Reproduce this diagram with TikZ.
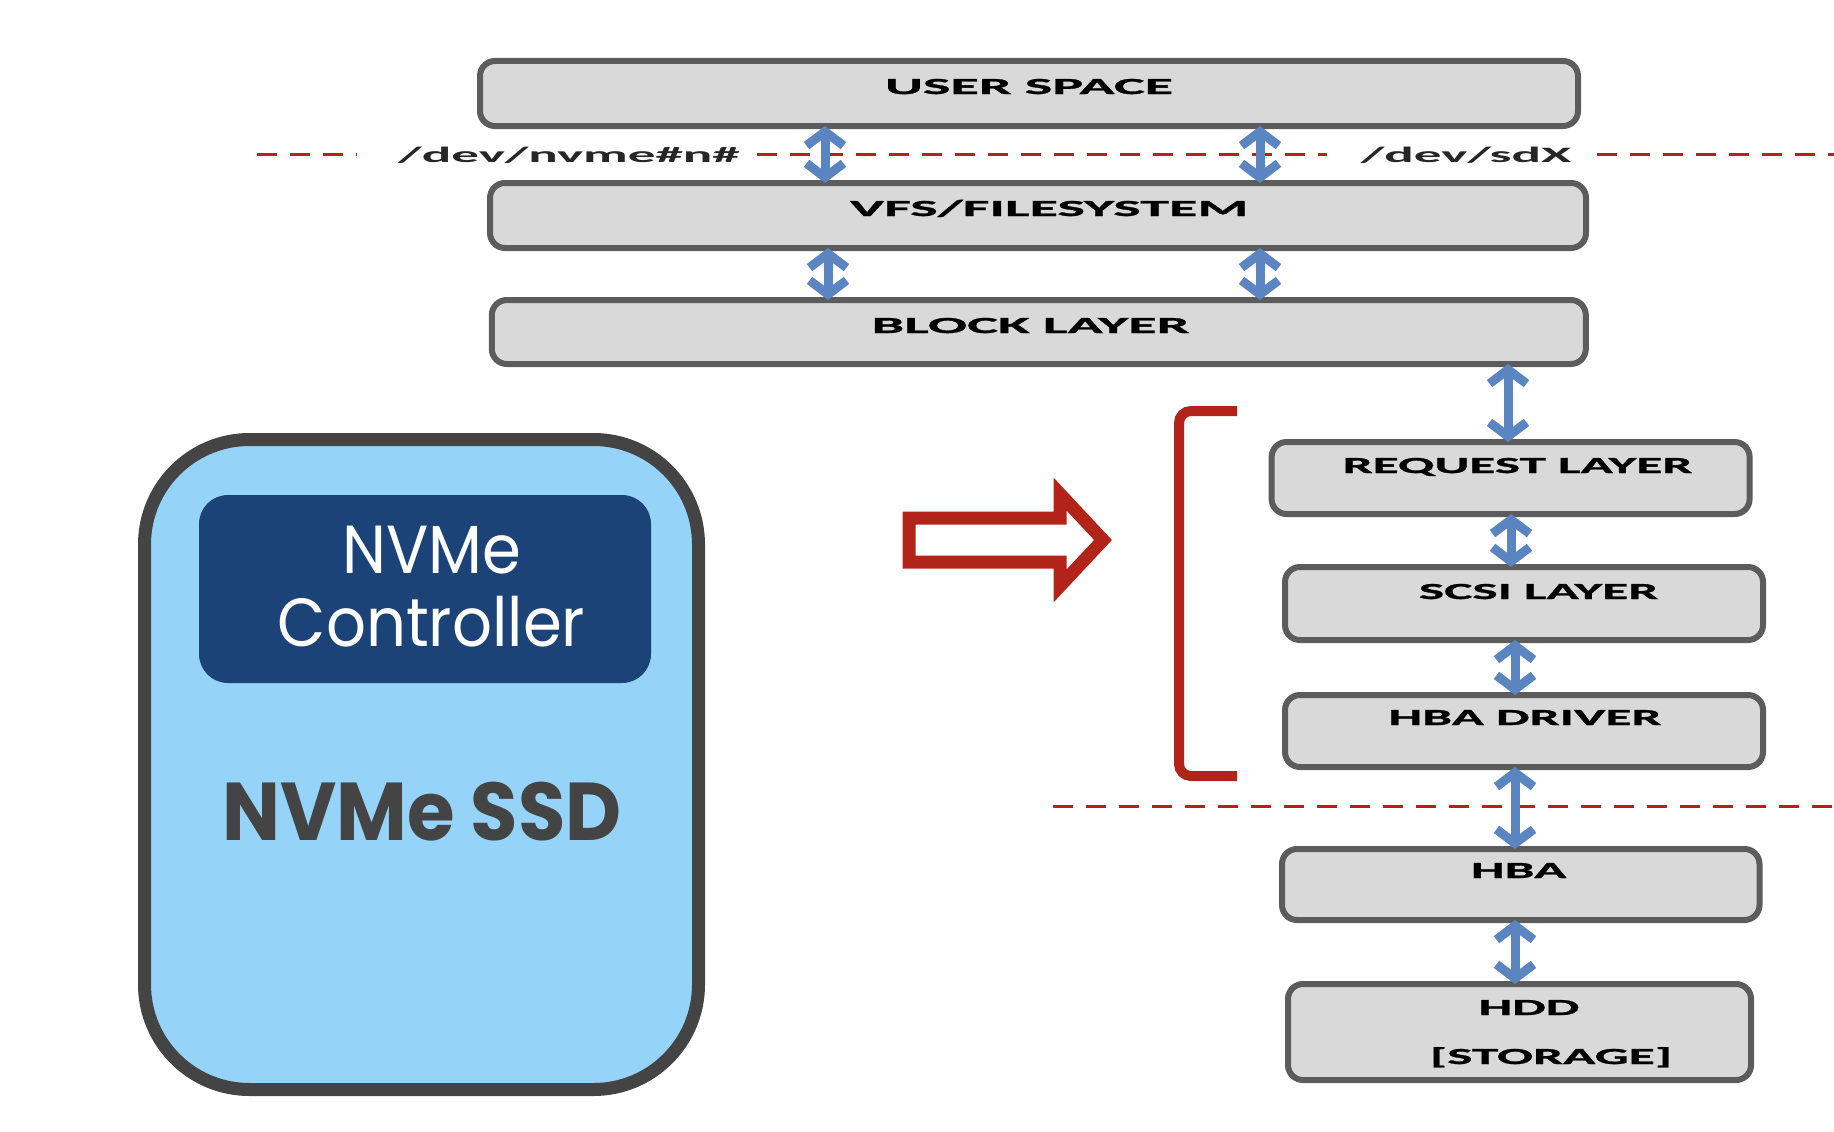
\documentclass[tikz,border=0pt]{standalone}
\usepackage{fontspec}
\setmainfont{Carlito}
\newfontfamily\boxfont[FakeStretch=2.53,FakeBold=1.2]{Carlito}
\newfontfamily\boxfontb[FakeStretch=2.32,FakeBold=1.2]{Carlito}
\newfontfamily\devfont[FakeStretch=2.5]{Carlito}
\newfontfamily\ctrlfont[FakeStretch=0.92]{Poppins}
\newfontfamily\ssdfont[FakeStretch=0.94]{Poppins}
\usetikzlibrary{arrows.meta}
\definecolor{boxfill}{HTML}{D9D9D9}
\definecolor{boxline}{HTML}{5C5C5C}
\definecolor{arrowblue}{HTML}{5B85C1}
\definecolor{darkred}{HTML}{B22419}
\definecolor{ssdfill}{HTML}{96D3F8}
\definecolor{ssdline}{HTML}{444444}
\definecolor{ctrlfill}{HTML}{1B4377}
\begin{document}
\begin{tikzpicture}[x=1pt,y=-1pt,
  layerbox/.style={draw=boxline, fill=boxfill, line width=6pt, rounded corners=15pt, inner sep=0pt, outer sep=0pt},
  lbl/.style={font=\boxfont\bfseries\fontsize{23}{23}\selectfont, text=black, inner sep=0pt, anchor=base},
  lblb/.style={font=\boxfontb\bfseries\fontsize{23}{23}\selectfont, text=black, inner sep=0pt, anchor=base},
  devlbl/.style={font=\devfont\bfseries\fontsize{22}{22}\selectfont, text=black!85, inner sep=0pt, anchor=base},
  barb/.tip={Straight Barb[length=14pt,width=37pt,line width=9pt]},
  barrow/.style={draw=arrowblue, line width=9pt, barb-barb},
  reddash/.style={draw=darkred, line width=3pt, dash pattern=on 20pt off 13pt}]
\useasboundingbox (0,0) rectangle (1834,1132);

% dashed separators
\coordinate (d1a) at (257,154); \coordinate (d1b) at (357,154);
\coordinate (d2a) at (757,154); \coordinate (d2b) at (1327,154);
\coordinate (d3a) at (1597,154); \coordinate (d3b) at (1834,154);
\coordinate (d4a) at (1053,806); \coordinate (d4b) at (1834,806);
\draw[reddash] (d1a) -- (d1b);
\draw[reddash] (d2a) -- (d2b);
\draw[reddash] (d3a) -- (d3b);
\draw[reddash] (d4a) -- (d4b);

% layer boxes
\node[layerbox, minimum width=1098pt, minimum height=65pt] (us) at (1029,93.5) {};
\node[layerbox, minimum width=1096pt, minimum height=65pt] (vfs) at (1038,215.5) {};
\node[layerbox, minimum width=1094pt, minimum height=64pt] (blk) at (1038.8,332) {};
\node[layerbox, minimum width=478pt, minimum height=72pt] (req) at (1510.6,478) {};
\node[layerbox, minimum width=478pt, minimum height=73pt] (scsi) at (1524,603.5) {};
\node[layerbox, minimum width=478pt, minimum height=72pt] (hbad) at (1524,731) {};
\node[layerbox, minimum width=477.5pt, minimum height=71pt] (hba) at (1520.75,884.5) {};
\node[layerbox, minimum width=463pt, minimum height=96pt] (hdd) at (1519.5,1032) {};

\node[lbl] (usT) at (1029,94) {USER SPACE};
\node[lbl] (vfsT) at (1049,216) {VFS/FILESYSTEM};
\node[lbl] (blkT) at (1030.5,333) {BLOCK LAYER};
\node[lblb] (reqT) at (1517.5,473) {REQUEST LAYER};
\node[lblb] (scsiT) at (1538.6,599) {SCSI LAYER};
\node[lblb] (hbadT) at (1525,725) {HBA DRIVER};
\node[lblb] (hbaT) at (1518.7,878) {HBA};
\node[lblb] (hddT) at (1529,1015) {HDD};
\node[lblb] (stoT) at (1551,1064) {[STORAGE]};

\node[devlbl] (nvmeT) at (569,162) {/dev/nvme\#n\#};
\node[devlbl] (sdT) at (1466,162) {/dev/sdX};

% blue arrows
\draw[barrow] ([xshift=-204pt]us.south) -- ([xshift=-213pt]vfs.north);
\draw[barrow] ([xshift=231pt]us.south) -- ([xshift=222pt]vfs.north);
\draw[barrow] ([xshift=-210pt]vfs.south) -- ([xshift=-210.8pt]blk.north);
\draw[barrow] ([xshift=222pt]vfs.south) -- ([xshift=221.2pt]blk.north);
\draw[barrow] ([xshift=469.2pt]blk.south) -- ([xshift=-2.6pt]req.north);
\draw[barrow] ([xshift=0.4pt]req.south) -- ([xshift=-13pt]scsi.north);
\draw[barrow] ([xshift=-9pt]scsi.south) -- ([xshift=-9pt]hbad.north);
\draw[barrow] ([xshift=-9pt]hbad.south) -- ([xshift=-5.75pt]hba.north);
\draw[barrow] ([xshift=-5.75pt]hba.south) -- ([xshift=-4.5pt]hdd.north);

% red arrow and bracket
\draw[draw=darkred, line width=13pt, fill=white, line join=miter]
  (909,518) -- (1060,518) -- (1060,494) -- (1103,540) -- (1060,586) -- (1060,562) -- (909,562) -- cycle;
\draw[draw=darkred, line width=10pt, rounded corners=12pt]
  (1237,411) -- (1179,411) -- (1179,776) -- (1237,776);

% NVMe SSD
\node[draw=ssdline, fill=ssdfill, line width=13pt, rounded corners=105pt,
      minimum width=554pt, minimum height=650pt, inner sep=0pt] (ssd) at (421.5,764.5) {};
\node[fill=ctrlfill, rounded corners=29pt, minimum width=452pt, minimum height=188pt,
      inner sep=0pt] (ctrl) at (425,589) {};
\node[font=\ctrlfont\fontsize{68}{68}\selectfont, text=white, inner sep=0pt, anchor=base] (ctrl1) at (432,573) {NVMe};
\node[font=\ctrlfont\fontsize{68}{68}\selectfont, text=white, inner sep=0pt, anchor=base] (ctrl2) at (431.5,646) {Controller};
\node[font=\ssdfont\bfseries\fontsize{82}{82}\selectfont, text=ssdline, inner sep=0pt, anchor=base] (ssdT) at (422,840) {NVMe SSD};
\end{tikzpicture}
\end{document}
